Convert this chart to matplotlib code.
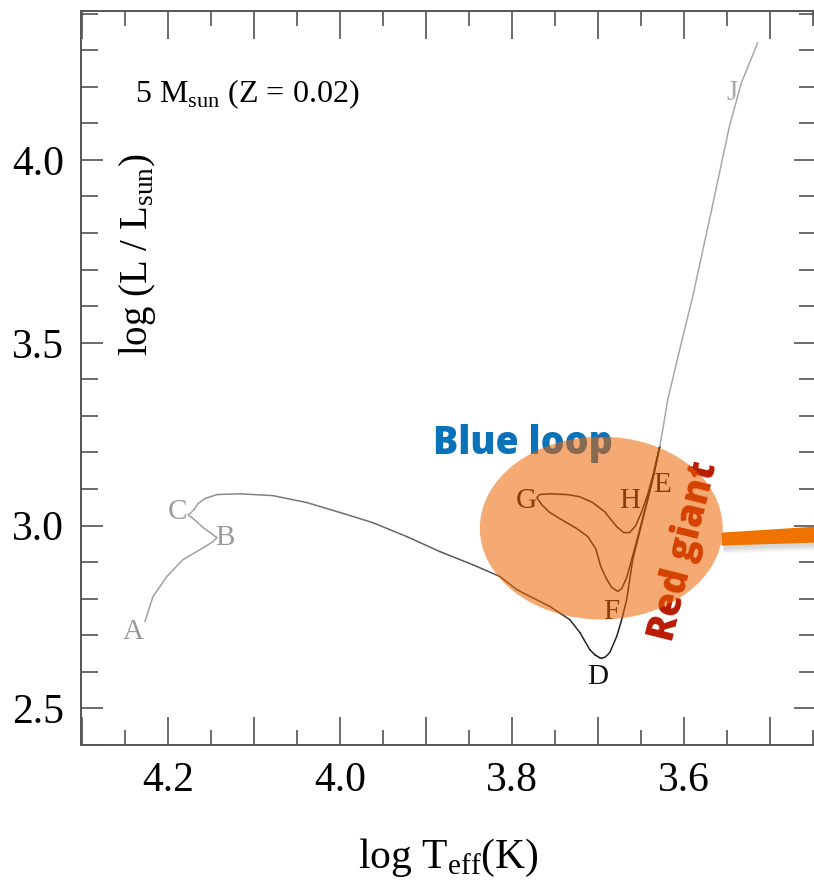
import numpy as np
import matplotlib
matplotlib.use('Agg')
import matplotlib.pyplot as plt
from matplotlib.patches import Ellipse, Polygon
from matplotlib.collections import LineCollection
from matplotlib.ticker import FixedLocator, MultipleLocator, FuncFormatter

# 5 Msun, Z = 0.02 evolutionary track, split into phases
# main sequence A -> B -> C
ms_logt = [4.2267, 4.2174, 4.2012, 4.1826, 4.1628, 4.1477, 4.1430,
           4.1593, 4.1721, 4.1767]
ms_logl = [2.738, 2.806, 2.861, 2.907, 2.934, 2.956, 2.967,
           2.995, 3.022, 3.030]

# Hertzsprung gap C -> D
hg_logt = [4.1767, 4.1744, 4.1698, 4.1651, 4.1570, 4.1430, 4.1163, 4.0779,
           4.0384, 4.0000, 3.9616, 3.9221, 3.8837, 3.8453, 3.8140, 3.7942,
           3.7558, 3.7326, 3.7209, 3.7093, 3.7035, 3.6980, 3.6953]
hg_logl = [3.030, 3.033, 3.044, 3.060, 3.074, 3.085, 3.087, 3.082,
           3.063, 3.036, 3.008, 2.970, 2.929, 2.893, 2.861, 2.825,
           2.779, 2.743, 2.708, 2.661, 2.647, 2.639, 2.637]

# red giant branch D -> E
rgb_logt = [3.6953, 3.6910, 3.6860, 3.6779, 3.6721, 3.6663, 3.6593, 3.6477,
            3.6360, 3.6279]
rgb_logl = [2.637, 2.641, 2.653, 2.697, 2.743, 2.798, 2.907, 3.016,
            3.126, 3.216]

# core helium burning E -> F -> G -> H
he_logt = [3.6279, 3.6337, 3.6419, 3.6512, 3.6605, 3.6663, 3.6721, 3.6767,
           3.6837, 3.6895, 3.6965, 3.7023, 3.7116, 3.7244, 3.7419, 3.7558,
           3.7651, 3.7709, 3.7674, 3.7558, 3.7360, 3.7209, 3.7058, 3.6919,
           3.6779, 3.6698, 3.6628, 3.6558, 3.6488, 3.6419, 3.6349, 3.6279]
he_logl = [3.216, 3.153, 3.071, 2.989, 2.907, 2.858, 2.828, 2.820,
           2.831, 2.853, 2.888, 2.937, 2.970, 2.992, 3.016, 3.036,
           3.057, 3.077, 3.085, 3.087, 3.085, 3.079, 3.063, 3.038,
           2.997, 2.981, 2.981, 3.000, 3.038, 3.085, 3.145, 3.216]

# asymptotic giant branch up to J
agb_logt = [3.6279, 3.6244, 3.6186, 3.6047, 3.5895, 3.5663, 3.5470, 3.5330, 3.5140]
agb_logl = [3.216, 3.262, 3.344, 3.481, 3.626, 3.877, 4.090, 4.210, 4.320]

# phase labels
point_names = ['A', 'B', 'C', 'D', 'E', 'F', 'G', 'H', 'J']
point_logt = [4.2407, 4.1337, 4.1895, 3.7000, 3.6256, 3.6837, 3.7826, 3.6628, 3.5442]
point_logl = [2.708, 2.965, 3.036, 2.585, 3.112, 2.765, 3.066, 3.066, 4.183]
point_colors = ['#9a9a9a', '#9a9a9a', '#9a9a9a', '#111111', '#111111',
                '#111111', '#111111', '#111111', '#aaaaaa']

x_ticks = [4.3, 4.2, 4.1, 4.0, 3.9, 3.8, 3.7, 3.6, 3.5]
y_ticks = [2.5, 3.0, 3.5, 4.0]

plt.rcParams['font.family'] = ['Liberation Serif', 'DejaVu Serif']

fig = plt.figure(figsize=(8.14, 8.86), dpi=100)
ax = fig.add_axes([0.0995, 0.1591, 0.9025, 0.8284])

ax.plot(ms_logt, ms_logl, color='#a0a0a0', lw=1.1, zorder=2)

# gap crossing darkens as it approaches the giant branch
pts = np.column_stack([hg_logt, hg_logl])
segs = np.stack([pts[:-1], pts[1:]], axis=1)
shades = plt.cm.Greys(np.linspace(0.42, 0.95, len(segs)))
ax.add_collection(LineCollection(segs, colors=shades, linewidths=1.1,
                                 capstyle='round', joinstyle='round', zorder=2))

ax.plot(rgb_logt, rgb_logl, color='#222222', lw=1.1, zorder=2)
ax.plot(he_logt, he_logl, color='#222222', lw=1.1, zorder=2)
ax.plot(agb_logt, agb_logl, color='#a8a8a8', lw=1.1, zorder=2)

for name, t, l, c in zip(point_names, point_logt, point_logl, point_colors):
    ax.text(t, l, name, color=c, fontsize=21, ha='center', va='center', zorder=3)

ax.text(0.0737, 0.887, '5 M$_{\\mathregular{sun}}$ (Z = 0.02)', fontsize=23,
        transform=ax.transAxes, ha='left', va='center')

ax.text(3.7872, 3.224, 'Blue loop', family='Open Sans', weight=800,
        fontsize=27, color='#0a72b8', ha='center', va='center', zorder=4)
ax.text(3.6000, 2.929, 'Red giant', family='Open Sans', weight=800,
        fontsize=27, color='#b81a00', rotation=76, ha='center', va='center',
        rotation_mode='anchor', zorder=4)

# highlight over the helium burning loop
ax.add_patch(Ellipse((3.6959, 2.9932), 0.2826, 0.5, facecolor='#ed6400',
                     edgecolor='none', alpha=0.55, zorder=5))

# pointer bar leaving the highlight, with a soft drop shadow
bar = [(3.5558, 2.9809), (3.4460, 2.9973), (3.4460, 2.9536), (3.5558, 2.9454)]
for k, a in enumerate([0.05, 0.07, 0.09, 0.11]):
    off = 0.022 - 0.004 * k
    shadow = [(t - 0.002, l - off) for t, l in bar]
    ax.add_patch(Polygon(shadow, closed=True, facecolor='#777777',
                         edgecolor='none', alpha=a, zorder=5.5, clip_on=False))
ax.add_patch(Polygon(bar, closed=True, facecolor='#f07300', edgecolor='none',
                     zorder=6, clip_on=False))

ax.set_xlim(4.3012, 3.4465)
ax.set_ylim(2.40, 4.407)

ax.xaxis.set_major_locator(FixedLocator(x_ticks))
ax.xaxis.set_minor_locator(MultipleLocator(0.05))
ax.xaxis.set_major_formatter(FuncFormatter(
    lambda v, p: '%.1f' % v if round(v * 10) % 2 == 0 else ''))
ax.yaxis.set_major_locator(FixedLocator(y_ticks))
ax.yaxis.set_minor_locator(MultipleLocator(0.1))
ax.yaxis.set_major_formatter(FuncFormatter(lambda v, p: '%.1f' % v))

ax.tick_params(which='both', direction='in', top=True, right=True,
               colors='#444444', labelcolor='black', labelsize=30, width=1.1)
ax.tick_params(axis='x', which='major', length=20, pad=12)
ax.tick_params(axis='x', which='minor', length=11)
ax.tick_params(axis='y', which='major', length=16, pad=12)
ax.tick_params(axis='y', which='minor', length=12)
for s in ax.spines.values():
    s.set_color('#555555')
    s.set_linewidth(1.4)

ax.set_xlabel('log T$_{\\mathregular{eff}}$(K)', fontsize=30)
ax.xaxis.set_label_coords(0.5, -0.154)
ax.xaxis.label.set_va('center')
ax.text(0.0764, 0.6676, 'log (L / L$_{\\mathregular{sun}}$)', fontsize=28,
        rotation=90, ha='center', va='center', transform=ax.transAxes)

fig.savefig('out.png', dpi=100)
